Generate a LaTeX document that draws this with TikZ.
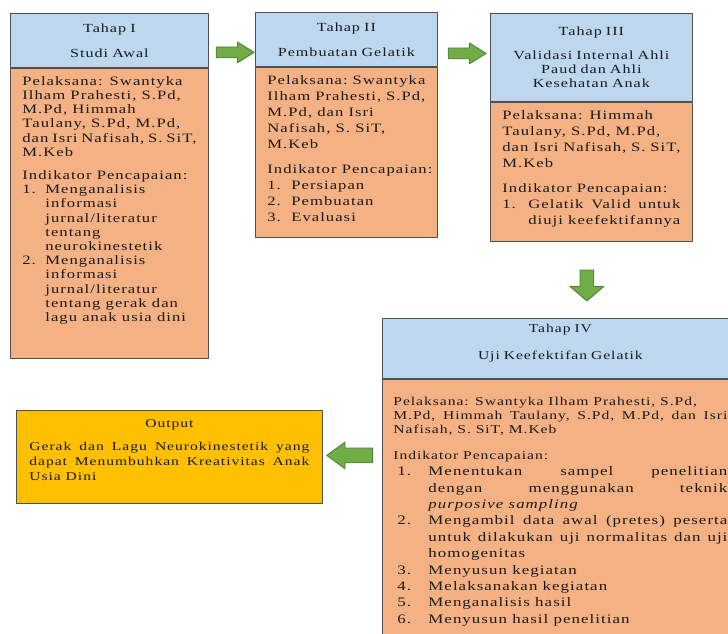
\documentclass[tikz,border=0pt]{standalone}
\usepackage{fontspec}
\setmainfont{Liberation Serif}[FakeStretch=1.3,LetterSpace=8]
\usetikzlibrary{calc,shapes.arrows,positioning}
\definecolor{headblue}{HTML}{BDD7EE}
\definecolor{bodyorange}{HTML}{F4B183}
\definecolor{outgold}{HTML}{FFC000}
\definecolor{arrowgreen}{HTML}{70AD47}
\definecolor{arrowrim}{HTML}{507E32}
\definecolor{boxrim}{HTML}{505050}
\definecolor{ink}{HTML}{1A1A1A}
\hyphenpenalty=10000
\exhyphenpenalty=10000
\newcommand{\stepitem}[3][0pt]{\par\hangindent=#2\hangafter=1\noindent\makebox[#2][l]{\hspace{#1}#3}}
\tikzset{headbox/.style={
            draw=boxrim,
            fill=headblue,
            line width=0.8pt,
            text=ink,
            align=center,
            inner xsep=12pt,
            font=\fontsize{12.4}{14}\selectfont
        },
        bodybox/.style={
            draw=boxrim,
            fill=bodyorange,
            line width=0.8pt,
            text=ink,
            align=justify,
            inner xsep=12pt,
            inner ysep=8pt,
            text height=9pt,
            font=\fontsize{12.8}{14.2}\selectfont
        },
        outbox/.style={
            draw=boxrim,
            fill=outgold,
            line width=0.8pt,
            text=ink,
            align=justify,
            inner xsep=13pt,
            inner ysep=8pt,
            text height=9pt,
            font=\fontsize{12}{15}\selectfont
        },
        fatarrow/.style={
            single arrow,
            draw=arrowrim,
            fill=arrowgreen,
            line width=0.8pt,
            inner xsep=0pt,
            anchor=tail,
            single arrow head indent=0pt
        },
        rightarrow/.style={
            fatarrow,
            minimum height=38pt,
            inner ysep=5pt,
            single arrow head extend=5pt,
            single arrow tip angle=64
        },
        downarrow/.style={
            fatarrow,
            rotate=-90,
            minimum height=31pt,
            inner ysep=6.5pt,
            single arrow head extend=10pt,
            single arrow tip angle=99
        },
        leftarrow/.style={
            fatarrow,
            rotate=180,
            minimum height=46pt,
            inner ysep=7pt,
            single arrow head extend=6pt,
            single arrow tip angle=72
        }
    }
\begin{document}
\begin{tikzpicture}[x=1pt,y=-1pt,line join=round]
\useasboundingbox (0,0) rectangle (728,634);

\node[headbox,anchor=north west,text width=174pt,minimum height=54pt] (h1) at (10,13) {Tahap I\\[11pt]Studi Awal};
\node[bodybox,below=0pt of h1,text width=174pt,text depth=265pt] (b1) {Pelaksana: Swantyka\newline Ilham~Prahesti,~S.Pd,\newline M.Pd, Himmah\newline Taulany,~S.Pd,~M.Pd,\newline dan~Isri~Nafisah,~S.~SiT,\newline M.Keb\par\vspace{9pt}
\mbox{Indikator Pencapaian:}
\stepitem{23pt}{1.}Menganalisis\newline informasi\newline jurnal/literatur\newline tentang\newline neurokinestetik
\stepitem{23pt}{2.}Menganalisis\newline informasi\newline jurnal/literatur\newline tentang gerak dan\newline lagu anak usia dini\par};

\node[headbox,anchor=north west,text width=158pt,minimum height=54pt] (h2) at (255,12) {Tahap II\\[11pt]Pembuatan Gelatik};
\node[bodybox,below=0pt of h2,text width=158pt,text depth=145pt,font=\fontsize{12.8}{16}\selectfont] (b2) {Pelaksana:~Swantyka\newline Ilham~Prahesti,~S.Pd,\newline M.Pd, dan Isri\newline Nafisah,~S.~SiT,\newline M.Keb\par\vspace{9pt}
\mbox{Indikator Pencapaian:}
\stepitem{24pt}{1.}Persiapan
\stepitem{24pt}{2.}Pembuatan
\stepitem{24pt}{3.}Evaluasi\par};

\node[headbox,anchor=north west,text width=178pt,minimum height=88pt] (h3) at (490,13) {Tahap III\\[10pt]Validasi Internal Ahli\\Paud dan Ahli\\Kesehatan Anak};
\node[bodybox,below=0pt of h3,text width=178pt,text depth=114pt,font=\fontsize{12.8}{16}\selectfont] (b3) {Pelaksana: Himmah\newline Taulany,~S.Pd,~M.Pd,\newline dan~Isri~Nafisah,~S.~SiT,\newline M.Keb\par\vspace{9pt}
\mbox{Indikator Pencapaian:}
\stepitem{26pt}{1.}Gelatik~Valid~untuk\linebreak diuji keefektifannya\par};

\node[headbox,anchor=north west,text width=334pt,inner xsep=11pt,inner ysep=5pt,text height=9pt,text depth=41pt,font=\fontsize{12}{14}\selectfont] (h4) at (382,318) {Tahap IV\\[13pt]Uji Keefektifan Gelatik};
\node[bodybox,below=0pt of h4,text width=334pt,inner xsep=11pt,inner ysep=17pt,text depth=260pt,font=\fontsize{12}{14}\selectfont] (b4) {Pelaksana: Swantyka Ilham Prahesti, S.Pd,\newline M.Pd,~Himmah~Taulany,~S.Pd,~M.Pd,~dan~Isri\linebreak Nafisah, S. SiT, M.Keb\par\vspace{12pt}
Indikator Pencapaian:\par
{\fontsize{13}{16.4}\selectfont
\stepitem[4pt]{35pt}{1.}Menentukan sampel penelitian\linebreak dengan menggunakan teknik\linebreak \textit{purposive sampling}
\stepitem[4pt]{35pt}{2.}Mengambil data awal (pretes) peserta\linebreak untuk dilakukan uji normalitas dan uji\linebreak homogenitas
\stepitem[4pt]{35pt}{3.}Menyusun kegiatan
\stepitem[4pt]{35pt}{4.}Melaksanakan kegiatan
\stepitem[4pt]{35pt}{5.}Menganalisis hasil
\stepitem[4pt]{35pt}{6.}Menyusun hasil penelitian\par}};

\node[outbox,anchor=north west,text width=280pt,text depth=68pt] (out) at (16,410) {\centerline{Output}\par\vspace{8pt}
Gerak dan Lagu Neurokinestetik yang\linebreak dapat Menumbuhkan Kreativitas Anak\linebreak Usia Dini\par};

\node[rightarrow] (a12) at ($(h1.east)+(7,12)$) {};
\node[rightarrow] (a23) at ($(h2.east)+(10,14)$) {};
\node[downarrow] (a34) at ($(b3.south)+(-4.5,28)$) {};
\node[leftarrow] (a4o) at ($(b4.west |- out.east)+(-9,-1.5)$) {};
\end{tikzpicture}
\end{document}
